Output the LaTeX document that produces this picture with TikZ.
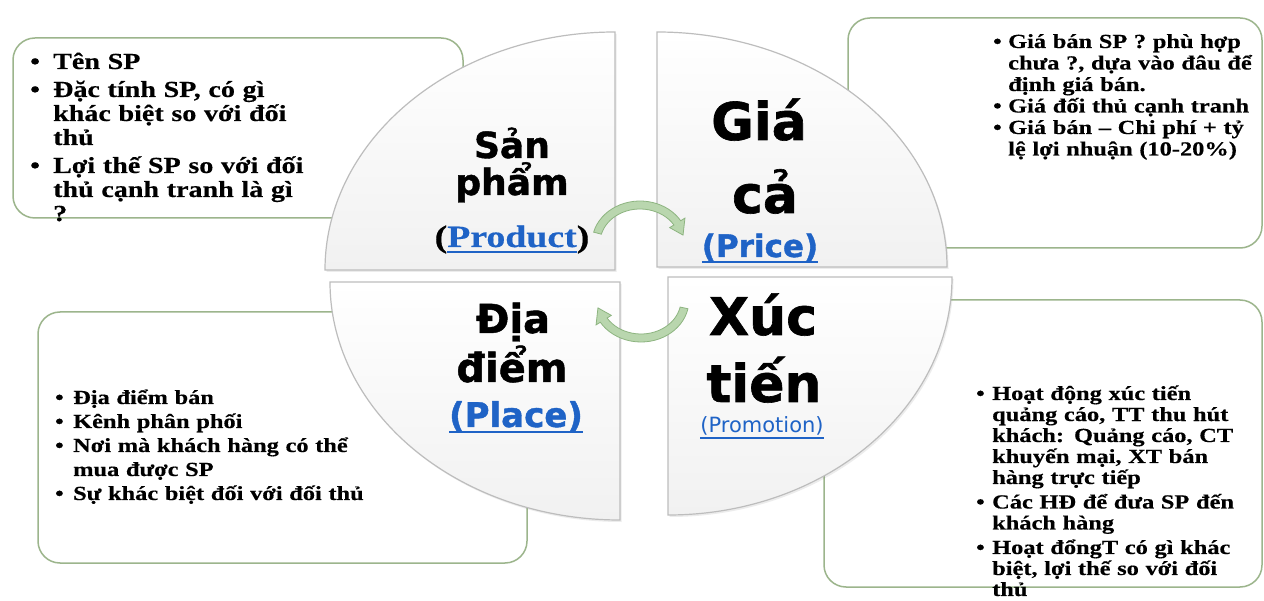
\documentclass[tikz,border=0pt]{standalone}
\usepackage{fontspec}
\setmainfont{Liberation Serif}
\newfontfamily\boxfont[FakeStretch=1.22, BoldFeatures={FakeBold=0.4}]{Liberation Serif}
\newfontfamily\labfont[BoldFeatures={FakeBold=1.2}]{DejaVu Sans}
\usetikzlibrary{calc,shadows}
\definecolor{boxgreen}{HTML}{9CB58C}
\definecolor{linkblue}{HTML}{1F63C6}
\definecolor{arrowfill}{HTML}{B9D6AE}
\definecolor{arrowline}{HTML}{8DB480}
\definecolor{quadline}{HTML}{BDBDBD}
\newsavebox\ulbox
\newcommand\myul[1]{\sbox\ulbox{#1}\rlap{\rule[-6pt]{\wd\ulbox}{1.8pt}}\usebox\ulbox}
\tikzset{
  infobox/.style={draw=boxgreen, line width=1.5pt, rounded corners=22pt, fill=white},
  quad/.style={draw=quadline, line width=1.2pt, top color=white, middle color=white, bottom color=gray!11,
    drop shadow={shadow xshift=1.5pt, shadow yshift=-2pt, opacity=0.15}},
  arrowshape/.style={fill=arrowfill, draw=arrowline, line width=0.8pt},
  boxtext/.style={anchor=base west, inner sep=0pt, align=left, text width=#1,
    execute at begin node={\lineskiplimit=-100pt\parindent=0pt}},
  lab/.style={inner sep=0pt, anchor=base},
}
\begin{document}
\begin{tikzpicture}[x=1pt, y={(0pt,-1pt)}]
\useasboundingbox[fill=white] (0,0) rectangle (1264,601);

% side boxes
\draw[infobox] (13,38) rectangle (463,218);
\draw[infobox] (848,18) rectangle (1262,248);
\draw[infobox] (38,312) rectangle (527,563);
\draw[infobox] (824,300) rectangle (1262,587);

% quadrants
\draw[quad] (615,270) -- (325,270) arc[start angle=180, end angle=270, x radius=290, y radius=238] -- cycle;
\draw[quad] (657,267) -- (657,32) arc[start angle=270, end angle=360, x radius=290, y radius=235] -- cycle;
\draw[quad] (620,282) -- (620,520) arc[start angle=90, end angle=180, x radius=290, y radius=238] -- cycle;
\draw[quad] (668,277) -- (952,277) arc[start angle=0, end angle=90, x radius=284, y radius=238] -- cycle;

% cycle arrows
\begin{scope}[shift={(640,243)}]
  \path[arrowshape] (195:48 and 42) arc[start angle=195, end angle=328, x radius=48, y radius=42]
    -- (328:53 and 47) -- (348:44 and 38) -- (328:35 and 29) -- (328:40 and 34)
    arc[start angle=328, end angle=195, x radius=40, y radius=34] -- cycle;
\end{scope}
\begin{scope}[shift={(641,300)}]
  \path[arrowshape] (12:48 and 42) arc[start angle=12, end angle=148, x radius=48, y radius=42]
    -- (148:53 and 47) -- (168:44 and 38) -- (148:35 and 29) -- (148:40 and 34)
    arc[start angle=148, end angle=12, x radius=40, y radius=34] -- cycle;
\end{scope}

% quadrant labels
\node[lab, font=\labfont\bfseries\fontsize{36}{40}\selectfont] (sp1) at (512,158) {Sản};
\node[lab, font=\labfont\bfseries\fontsize{36}{40}\selectfont] (sp2) at (512,195) {phẩm};
\node[lab, font=\boxfont\bfseries\fontsize{31}{34}\selectfont] (sp3) at (512,247) {(\textcolor{linkblue}{\myul{Product}})};

\node[lab, font=\labfont\bfseries\fontsize{52}{56}\selectfont] (gc1) at (759,140) {Giá};
\node[lab, font=\labfont\bfseries\fontsize{52}{56}\selectfont] (gc2) at (765,213) {cả};
\node[lab, font=\labfont\bfseries\fontsize{31}{34}\selectfont, text=linkblue] (gc3) at (760,257) {\myul{(Price)}};

\node[lab, font=\labfont\bfseries\fontsize{40}{44}\selectfont] (dd1) at (513,333) {Địa};
\node[lab, font=\labfont\bfseries\fontsize{40}{44}\selectfont] (dd2) at (512,382) {điểm};
\node[lab, font=\labfont\bfseries\fontsize{34}{38}\selectfont, text=linkblue] (dd3) at (516,427) {\myul{(Place)}};

\node[lab, font=\labfont\bfseries\fontsize{52}{56}\selectfont] (xt1) at (763,335) {Xúc};
\node[lab, font=\labfont\bfseries\fontsize{52}{56}\selectfont] (xt2) at (764,402) {tiến};
\node[lab, font=\labfont\fontsize{21}{24}\selectfont, text=linkblue] (xt3) at (762,433) {\myul{(Promotion)}};

% box texts
\node[boxtext=420pt, font=\boxfont\bfseries\fontsize{23}{24}\selectfont] (tltext) at (30,69) {%
\makebox[23pt][l]{•}Tên SP\\[4pt]
\makebox[23pt][l]{•}Đặc tính  SP, có gì\\
\hspace*{23pt}khác biệt  so với đối\\
\hspace*{23pt}thủ\\[4pt]
\makebox[23pt][l]{•}Lợi thế SP so với đối\\
\hspace*{23pt}thủ cạnh tranh  là gì\\
\hspace*{23pt}?};

\node[boxtext=400pt, font=\boxfont\bfseries\fontsize{20}{21.5}\selectfont] (trtext) at (993,48) {%
\makebox[15pt][l]{•}Giá bán SP ? phù hợp\\
\hspace*{15pt}chưa ?, dựa vào đâu để\\
\hspace*{15pt}định giá bán.\\
\makebox[15pt][l]{•}Giá đối thủ cạnh tranh\\
\makebox[15pt][l]{•}Giá bán – Chi phí + tỷ\\
\hspace*{15pt}lệ lợi nhuận (10-20\%)};

\node[boxtext=400pt, font=\boxfont\bfseries\fontsize{20}{24}\selectfont] (bltext) at (55,404) {%
\makebox[18pt][l]{•}Địa điểm bán\\
\makebox[18pt][l]{•}Kênh phân phối\\
\makebox[18pt][l]{•}Nơi mà khách hàng có thể\\
\hspace*{18pt}mua được SP\\
\makebox[18pt][l]{•}Sự khác biệt đối với đối thủ};

\node[boxtext=400pt, font=\boxfont\bfseries\fontsize{20}{21}\selectfont] (brtext) at (976,400) {%
\makebox[16pt][l]{•}Hoạt động xúc tiến\\
\hspace*{16pt}quảng cáo, TT thu hút\\
\hspace*{16pt}khách: Quảng cáo, CT\\
\hspace*{16pt}khuyến mại, XT bán\\
\hspace*{16pt}hàng trực tiếp\\[3.5pt]
\makebox[16pt][l]{•}Các HĐ để đưa SP đến\\
\hspace*{16pt}khách hàng\\[3.5pt]
\makebox[16pt][l]{•}Hoạt đổngT có gì khác\\
\hspace*{16pt}biệt, lợi thế so với đối\\
\hspace*{16pt}thủ};
\end{tikzpicture}
\end{document}
